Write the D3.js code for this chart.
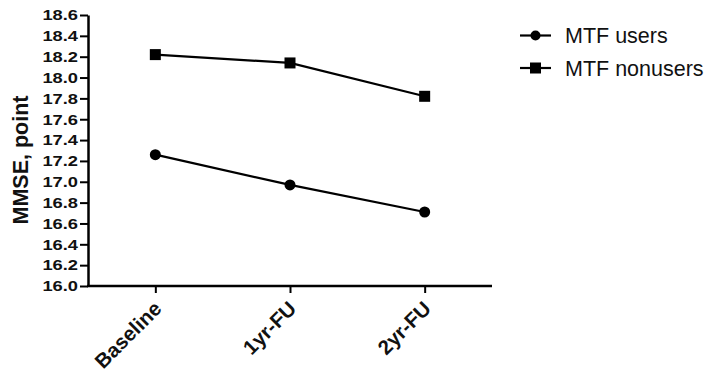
<!DOCTYPE html>
<html>
<head>
<meta charset="utf-8">
<script src="https://cdn.jsdelivr.net/npm/d3@7"></script>
<style>
  body { margin: 0; background: #fff; }
  svg { display: block; font-family: "Liberation Sans", Arial, sans-serif; }
</style>
</head>
<body>
<svg id="chart" width="710" height="374"></svg>
<script>
var timepoints = ["Baseline", "1yr-FU", "2yr-FU"]
var usersValues = [17.26, 16.97, 16.71]
var nonusersValues = [18.22, 18.14, 17.82]
var seriesNames = ["MTF users", "MTF nonusers"]
var yTicks = [16.0, 16.2, 16.4, 16.6, 16.8, 17.0, 17.2, 17.4, 17.6, 17.8, 18.0, 18.2, 18.4, 18.6]

var dimensions = {
    width: 710,
    height: 374,
    margin: { top: 15, bottom: 88, right: 218, left: 88 }
}

var svg = d3.select("#chart")

var xScale = d3.scalePoint()
    .domain(timepoints)
    .range([dimensions.margin.left, dimensions.width - dimensions.margin.right])
    .padding(0.5)

var yScale = d3.scaleLinear()
    .domain([16.0, 18.6])
    .range([dimensions.height - dimensions.margin.bottom, dimensions.margin.top])

// y axis
var yAxis = svg.append("g")
    .attr("transform", "translate(" + dimensions.margin.left + ",0)")
    .call(d3.axisLeft(yScale).tickValues(yTicks).tickFormat(d3.format(".1f")).tickSize(8).tickSizeOuter(0))
yAxis.select(".domain").attr("stroke-width", 2.5)
yAxis.selectAll(".tick line").attr("stroke-width", 2)
yAxis.selectAll("text")
    .style("font-size", "15px")
    .style("font-weight", "bold")
    .attr("x", 0)
    .attr("transform", "translate(-10,0) scale(1.22,1)")
    .attr("fill", "#111")

// x axis
var xAxis = svg.append("g")
    .attr("transform", "translate(0," + (dimensions.height - dimensions.margin.bottom) + ")")
    .call(d3.axisBottom(xScale).tickSize(7).tickSizeOuter(0))
xAxis.select(".domain").attr("stroke-width", 2.5)
    .attr("d", "M" + (dimensions.margin.left - 1) + ",0H" + (dimensions.width - dimensions.margin.right))
xAxis.selectAll(".tick line").attr("stroke-width", 2)
xAxis.selectAll("text")
    .style("font-size", "20.5px")
    .style("font-weight", "bold")
    .attr("fill", "#111")
    .style("text-anchor", "end")
    .attr("x", 0)
    .attr("y", 0)
    .attr("dy", 0)
    .attr("transform", "translate(7,24) rotate(-45)")

// y title
svg.append("text")
    .attr("transform", "rotate(-90)")
    .attr("x", -160)
    .attr("y", 28)
    .attr("text-anchor", "middle")
    .style("font-size", "21.5px")
    .style("font-weight", "bold")
    .attr("fill", "#111")
    .text("MMSE, point")

var lineGen = d3.line()
    .x(function(d, i){ return xScale(timepoints[i]) })
    .y(function(d){ return yScale(d) })

// MTF users (circles)
svg.append("path")
    .datum(usersValues)
    .attr("d", lineGen)
    .attr("fill", "none")
    .attr("stroke", "#000")
    .attr("stroke-width", 2.2)
svg.selectAll(".dot")
    .data(usersValues)
    .enter()
    .append("circle")
    .attr("cx", function(d, i){ return xScale(timepoints[i]) })
    .attr("cy", function(d){ return yScale(d) })
    .attr("r", 5.5)
    .attr("fill", "#000")

// MTF nonusers (squares)
svg.append("path")
    .datum(nonusersValues)
    .attr("d", lineGen)
    .attr("fill", "none")
    .attr("stroke", "#000")
    .attr("stroke-width", 2.2)
svg.selectAll(".sq")
    .data(nonusersValues)
    .enter()
    .append("rect")
    .attr("x", function(d, i){ return xScale(timepoints[i]) - 5.5 })
    .attr("y", function(d){ return yScale(d) - 5.5 })
    .attr("width", 11)
    .attr("height", 11)
    .attr("fill", "#000")

// legend
var legend = svg.append("g").attr("transform", "translate(520,35.5)")
seriesNames.forEach(function(name, i){
    var row = legend.append("g").attr("transform", "translate(0," + (i * 32.5) + ")")
    row.append("line")
        .attr("x1", 0).attr("x2", 31)
        .attr("stroke", "#000").attr("stroke-width", 2.2)
    if (i == 0) {
        row.append("circle").attr("cx", 15.5).attr("r", 5).attr("fill", "#000")
    } else {
        row.append("rect").attr("x", 10).attr("y", -5.5).attr("width", 11).attr("height", 11).attr("fill", "#000")
    }
    row.append("text")
        .attr("x", 45)
        .attr("dy", "0.36em")
        .style("font-size", "21.5px")
        .attr("fill", "#111")
        .text(name)
})
</script>
</body>
</html>
